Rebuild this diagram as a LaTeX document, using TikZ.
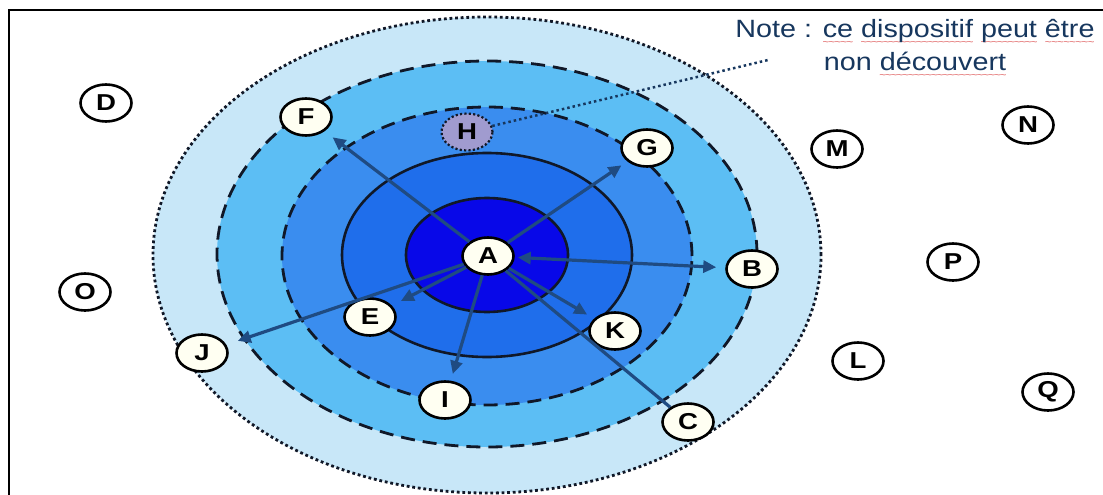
\documentclass[tikz,border=0pt]{standalone}
\usepackage{fontspec}
\usetikzlibrary{arrows.meta,shapes.geometric}
\setmainfont{Liberation Sans}
\newfontfamily\nodefont[FakeStretch=1.2]{Liberation Sans}
\newfontfamily\notefont[FakeStretch=1.15]{Liberation Sans}
\definecolor{ringE}{HTML}{C8E7F8}
\definecolor{ringD}{HTML}{5CBEF4}
\definecolor{ringC}{HTML}{3A8DEF}
\definecolor{ringB}{HTML}{1F6EEB}
\definecolor{ringA}{HTML}{0808E8}
\definecolor{edge}{HTML}{101828}
\definecolor{nodefill}{HTML}{FFFFF2}
\definecolor{hfill}{HTML}{A09BCF}
\definecolor{arrowc}{HTML}{1F4B82}
\definecolor{notec}{HTML}{17375E}
\definecolor{spell}{HTML}{E06060}
\newcommand\redwave[1]{\setbox0=\hbox{#1}%
  \rlap{\raisebox{-8pt}{\hbox to \wd0{\color{spell}\fontsize{10}{10}\selectfont\xleaders\hbox{\kern-0.6pt\char`\~\kern-0.6pt}\hfil}}}\box0\relax}
\begin{document}
\begin{tikzpicture}[x=1pt,y=-1pt,
  solidring/.style={draw=edge, line width=2.6pt},
  dashring/.style={draw=edge, line width=2.8pt, dash pattern=on 14pt off 8pt},
  dotring/.style={draw=edge, line width=2.8pt, dash pattern=on 2.8pt off 2.8pt},
  letter/.style={ellipse, draw=black, line width=2.6pt, fill=nodefill,
    minimum width=51pt, minimum height=37pt, inner sep=0pt,
    font=\nodefont\bfseries\fontsize{23}{23}\selectfont},
  outer/.style={letter, fill=white},
  hnode/.style={letter, fill=hfill, draw=edge, line width=2.2pt, dash pattern=on 2.2pt off 2.2pt},
  arrowline/.style={draw=arrowc, line width=3.2pt},
  arr/.style={arrowline, -{Triangle[length=13pt,width=12pt]}},
  leader/.style={draw=notec, line width=2.5pt, dash pattern=on 2.5pt off 3pt},
  notetext/.style={font=\notefont\fontsize{25}{33}\selectfont, text=notec, align=center, inner sep=0pt}
]
\useasboundingbox (0,0) rectangle (1103,495);
\fill[white] (0,0) rectangle (1103,495);
\draw[line width=2.5pt] (9,495) -- (9,10) -- (1103,10);

% concentric zones
\filldraw[fill=ringE, dotring] (487,255) ellipse [x radius=334pt, y radius=238pt];
\filldraw[fill=ringD, dashring] (487,254) ellipse [x radius=270pt, y radius=193pt];
\filldraw[fill=ringC, dashring] (487,256) ellipse [x radius=205pt, y radius=149pt];
\filldraw[fill=ringB, solidring] (487,255) ellipse [x radius=145pt, y radius=102pt];
\filldraw[fill=ringA, solidring] (487,255) ellipse [x radius=81pt, y radius=57pt];

% nodes
\node[letter] (A) at (488,256) {A};
\node[letter] (B) at (752,269) {B};
\node[letter] (C) at (688,422) {C};
\node[letter] (E) at (370,317) {E};
\node[letter] (F) at (306,117) {F};
\node[letter] (G) at (647,148) {G};
\node[letter] (I) at (445,400) {I};
\node[letter] (J) at (202,353) {J};
\node[letter] (K) at (615,331) {K};
\node[hnode] (H) at (467,132) {H};
\node[outer] (D) at (106,103) {D};
\node[outer] (O) at (85,292) {O};
\node[outer] (M) at (837,149) {M};
\node[outer] (N) at (1028,125) {N};
\node[outer] (P) at (953,262) {P};
\node[outer] (L) at (858,361) {L};
\node[outer] (Q) at (1048,392) {Q};

% connectors
\draw[arr, shorten >=10pt] (A) -- (F);
\draw[arr, shorten >=7pt] (A) -- (G);
\draw[arrowline, {Triangle[length=13pt,width=12pt]}-{Triangle[length=13pt,width=12pt]}, shorten >=9pt, shorten <=3pt] (A) -- (B);
\draw[arr, shorten >=10pt] (A) -- (E);
\draw[arr, shorten >=12pt] (A) -- (J);
\draw[arr, shorten >=7pt] (A) -- (I);
\draw[arr, shorten >=8pt] (A) -- (K);
\draw[arrowline] (A) -- (C);

% note
\coordinate (noteend) at (768,60);
\draw[leader] (H) -- (noteend);
\node[notetext, anchor=north] (note) at (915,19)
  {Note : \redwave{ce} \redwave{dispositif} \redwave{peut} \redwave{être}\\
   non \redwave{découvert}};
\end{tikzpicture}
\end{document}
